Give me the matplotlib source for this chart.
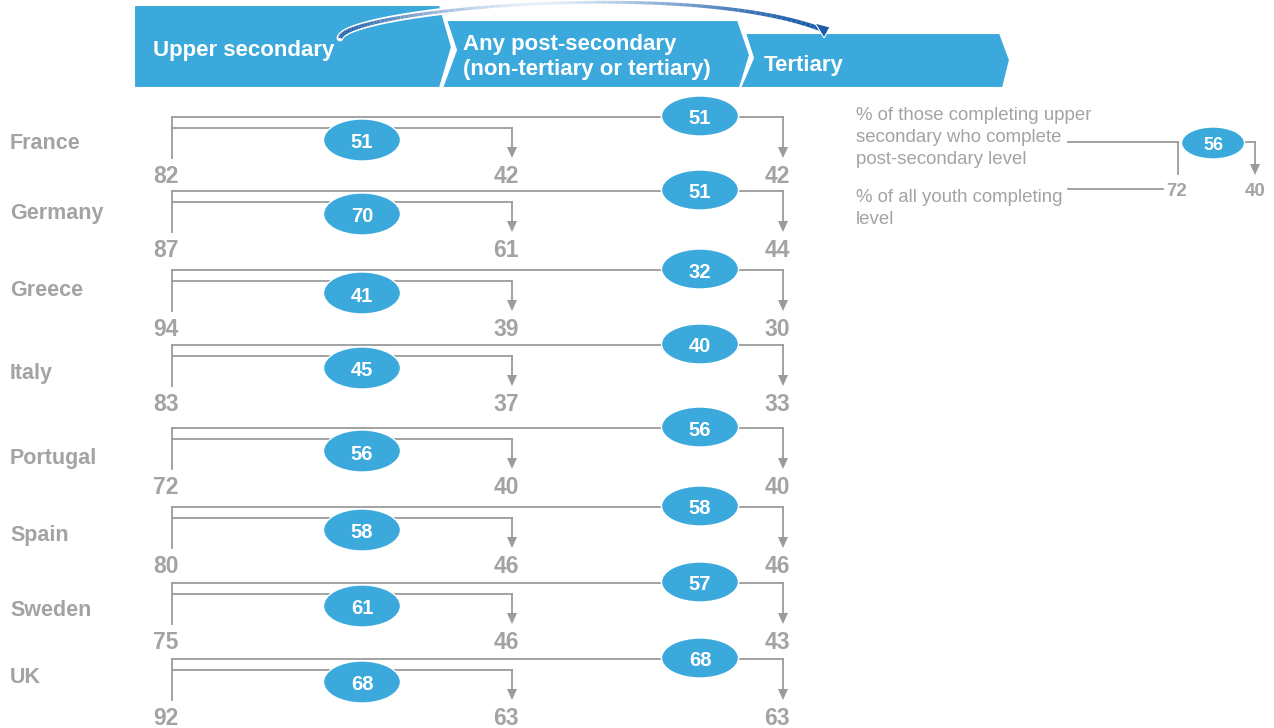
import numpy as np
import matplotlib.pyplot as plt
from matplotlib.patches import Ellipse, Polygon
from matplotlib.collections import LineCollection

plt.rcParams['font.family'] = ['Liberation Sans', 'DejaVu Sans']

# data
countries = ['France', 'Germany', 'Greece', 'Italy', 'Portugal', 'Spain', 'Sweden', 'UK']
upper_sec = [82, 87, 94, 83, 72, 80, 75, 92]
post_sec = [42, 61, 39, 37, 40, 46, 46, 63]
tertiary = [42, 44, 30, 33, 40, 46, 43, 63]
post_share = [51, 70, 41, 45, 56, 58, 61, 68]
tert_share = [51, 51, 32, 40, 56, 58, 57, 68]
stages = ['Upper secondary', 'Any post-secondary\n(non-tertiary or tertiary)', 'Tertiary']
legend_top = ['% of those completing upper', 'secondary who complete', 'post-secondary level']
legend_bottom = ['% of all youth completing', 'level']
legend_vals = (72, 56, 40)

# layout (pixels)
row_y = [117, 191, 270, 345, 428, 507, 583, 659]
label_y = [141, 211, 288, 371, 456, 533, 608, 675]
x_left, x_mid, x_right = 172, 512, 783
x_e1, x_e2 = 362, 700

BLUE = '#3ba9dc'
GREY = '#a3a3a3'
LINE = '#9b9b9b'

fig = plt.figure(figsize=(12.74, 7.28), dpi=100)
ax = fig.add_axes([0, 0, 1, 1])
ax.set_xlim(0, 1274)
ax.set_ylim(728, 0)
ax.axis('off')


def arrow_down(x, y0, y1, lw=1.3):
    ax.plot([x, x], [y0, y1 - 10], color=LINE, lw=lw, zorder=2)
    ax.add_patch(Polygon([(x - 5, y1 - 11), (x + 5, y1 - 11), (x, y1)],
                         closed=True, color=LINE, lw=0, zorder=2))


def bubble(x, y, val, w=77, h=42, fs=14.5):
    ax.add_patch(Ellipse((x, y), w, h, facecolor=BLUE, edgecolor='white',
                         lw=1, zorder=4))
    ax.text(x, y + 1, str(val), color='white', fontsize=fs, fontweight='bold',
            ha='center', va='center_baseline', zorder=5)


# header chevrons
shapes = [
    [(134, 5), (440, 5), (452, 47), (440, 88), (134, 88)],
    [(446, 20), (738, 20), (750, 55), (740, 88), (442, 88), (456, 50)],
    [(745, 33), (1000, 33), (1010, 60), (1003, 88), (740, 88), (753, 58)],
]
for pts in shapes:
    ax.add_patch(Polygon(pts, closed=True, facecolor=BLUE, edgecolor='white',
                         lw=1.5, zorder=1))
ax.text(153, 48, stages[0], color='white', fontsize=16, fontweight='bold',
        ha='left', va='center_baseline', zorder=3)
ax.text(463, 57, stages[1], color='white', fontsize=16, fontweight='bold',
        ha='left', va='center', linespacing=1.3, zorder=3)
ax.text(764, 63, stages[2], color='white', fontsize=16, fontweight='bold',
        ha='left', va='center_baseline', zorder=3)

# curved arrow over the header
t = np.linspace(0, 1, 100)
P = np.array([[340, 38], [346, 10], [690, -22], [823, 30]])
curve = (((1 - t) ** 3)[:, None] * P[0] + (3 * (1 - t) ** 2 * t)[:, None] * P[1]
         + (3 * (1 - t) * t ** 2)[:, None] * P[2] + (t ** 3)[:, None] * P[3])
segs = np.stack([curve[:-1], curve[1:]], axis=1)
ax.plot(curve[:, 0], curve[:, 1], color='white', lw=5, solid_capstyle='round', zorder=5)
dark = np.array([0.11, 0.36, 0.66])
light = np.array([0.90, 0.94, 0.98])
mix = np.abs(np.cos(np.pi * t[:-1]))[:, None] ** 1.5
cols = light + (dark - light) * mix
widths = 3.2 - 1.2 * np.sin(np.pi * t[:-1])
ax.add_collection(LineCollection(segs, colors=cols, linewidths=widths, zorder=6))
ax.add_patch(Polygon([(815, 23), (830, 27), (824, 38)], closed=True,
                     facecolor=dark, edgecolor='white', lw=0.8, zorder=7))

# rows
for i, name in enumerate(countries):
    o = row_y[i]
    ax.text(10, label_y[i], name, color=GREY, fontsize=15.5, fontweight='bold',
            ha='left', va='center_baseline')
    # outer bracket (upper secondary -> tertiary)
    ax.plot([x_left, x_left], [o, o + 41], color=LINE, lw=1.3, zorder=2)
    ax.plot([x_left, x_right], [o, o], color=LINE, lw=1.3, zorder=2)
    arrow_down(x_right, o, o + 41)
    # inner bracket (upper secondary -> post-secondary)
    ax.plot([x_left, x_mid], [o + 11, o + 11], color=LINE, lw=1.3, zorder=2)
    arrow_down(x_mid, o + 11, o + 41)
    bubble(x_e1, o + 23, post_share[i])
    bubble(x_e2, o - 1, tert_share[i], h=40)
    for x, v in zip((x_left, x_mid, x_right), (upper_sec[i], post_sec[i], tertiary[i])):
        ax.text(x - 6, o + 57, str(v), color=GREY, fontsize=16.5, fontweight='bold',
                ha='center', va='center_baseline')

# legend
for k, line in enumerate(legend_top):
    ax.text(856, 114 + 22 * k, line, color=GREY, fontsize=13.4, ha='left',
            va='center_baseline')
for k, line in enumerate(legend_bottom):
    ax.text(856, 196 + 21 * k, line, color=GREY, fontsize=13.4, ha='left',
            va='center_baseline')
ax.plot([1068, 1178], [142, 142], color=LINE, lw=1.3, zorder=2)
ax.plot([1178, 1178], [142, 174], color=LINE, lw=1.3, zorder=2)
ax.plot([1068, 1163], [189, 189], color=LINE, lw=1.3, zorder=2)
ax.plot([1230, 1255], [142, 142], color=LINE, lw=1.3, zorder=2)
arrow_down(1255, 142, 175)
bubble(1213, 143, legend_vals[1], w=63, h=32, fs=13)
ax.text(1177, 190, str(legend_vals[0]), color=GREY, fontsize=13.5, fontweight='bold',
        ha='center', va='center_baseline')
ax.text(1255, 190, str(legend_vals[2]), color=GREY, fontsize=13.5, fontweight='bold',
        ha='center', va='center_baseline')

fig.savefig('out.png', dpi=100)
